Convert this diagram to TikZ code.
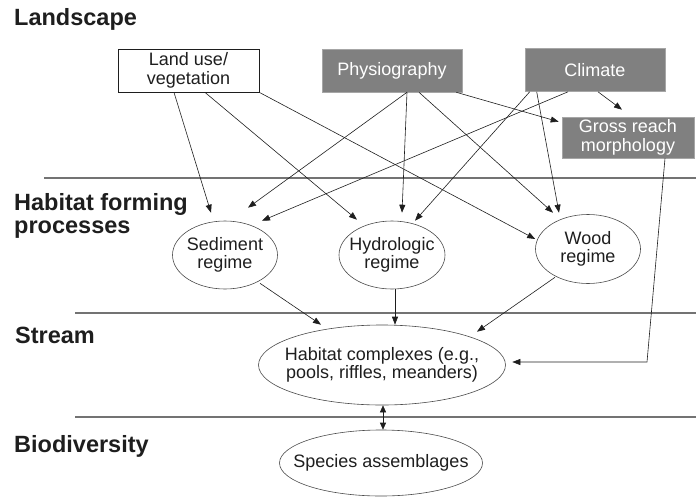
\documentclass[tikz,border=0pt]{standalone}
\usepackage{fontspec}
\setmainfont{Liberation Sans}
\usetikzlibrary{arrows.meta,shapes.geometric}
\definecolor{boxgray}{RGB}{128,128,128}
\definecolor{rulegray}{RGB}{115,115,115}
\definecolor{ink}{RGB}{30,30,30}
\newcommand\zw[1]{\makebox[0pt]{#1}}
\begin{document}
\begin{tikzpicture}[x=1pt,y=-1pt,
  sect/.style={anchor=base west,inner sep=0pt,align=left,text=ink,
    font=\fontsize{23.5}{23}\selectfont\bfseries},
  whitebox/.style={draw=ink,line width=0.8pt,fill=white,minimum width=141pt,minimum height=43pt,
    inner sep=0pt,align=center,text=ink,font=\fontsize{18}{18.5}\selectfont},
  graybox/.style={draw=boxgray!70!white,line width=0.6pt,fill=boxgray,minimum width=140pt,minimum height=43pt,
    inner sep=0pt,align=center,text=white,font=\fontsize{18}{18.5}\selectfont},
  regime/.style={ellipse,draw=ink!80,line width=0.6pt,inner sep=0pt,align=center,text=ink,
    font=\fontsize{18}{18.5}\selectfont},
  conn/.style={draw=ink,line width=0.6pt,-{Triangle[length=8pt,width=6pt]}},
  divider/.style={draw=rulegray,line width=1.1pt}
]
\useasboundingbox (0,0) rectangle (696,498);

% section labels
\node[sect] (lLand) at (14,25) {Landscape};
\node[sect] (lHab) at (14,233) {Habitat forming\\processes};
\node[sect] (lStream) at (15,343) {Stream};
\node[sect] (lBio) at (14,452) {Biodiversity};

% dividers
\draw[divider] (44,178) -- (696,178);
\draw[divider] (75,313) -- (696,313);
\draw[divider] (75,417) -- (696,417);

% boxes
\node[whitebox] (land) at (188.5,70.5) {Land use/\\vegetation};
\node[graybox] (phys) at (392,70.5) {Physiography};
\node[graybox] (clim) at (595,70) {Climate};
\node[graybox,minimum width=132pt,minimum height=41pt] (gross) at (628,137.5) {Gross reach\\morphology};

% ellipses
\node[regime,minimum width=105pt,minimum height=68pt] (sed) at (225,255) {\zw{Sediment}\\\zw{regime}};
\node[regime,minimum width=106pt,minimum height=68pt] (hyd) at (392,255) {\zw{Hydrologic}\\\zw{regime}};
\node[regime,minimum width=105pt,minimum height=69pt] (wood) at (588,249) {\zw{Wood}\\\zw{regime}};
\node[regime,minimum width=247pt,minimum height=80pt] (hab) at (382,365) {\zw{Habitat complexes (e.g.,}\\\zw{pools, riffles, meanders)}};
\node[regime,minimum width=203pt,minimum height=66pt] (spec) at (381,463) {\zw{Species assemblages}};

% land use
\draw[conn] ([xshift=-14.5pt]land.south) -- ([xshift=-14pt,yshift=8pt]sed.north);
\draw[conn] ([xshift=16.5pt]land.south) -- ([xshift=-35pt,yshift=1pt]hyd.north);
\draw[conn] (land.south east) -- ([yshift=10pt]wood.west);

% physiography
\draw[conn] ([xshift=15pt]phys.south) -- ([xshift=23pt,yshift=13pt]sed.north);
\draw[conn] ([xshift=15pt]phys.south) -- ([xshift=10pt,yshift=8pt]hyd.north);
\draw[conn] ([xshift=27pt]phys.south) -- ([xshift=-35pt,yshift=1.5pt]wood.north);
\draw[conn] ([xshift=-6pt]phys.south east) -- ([xshift=-3pt,yshift=-5pt]gross.north west);

% climate
\draw[conn] ([xshift=-27pt]clim.south) -- ([xshift=37pt]sed.north);
\draw[conn] ([xshift=5pt]clim.south west) -- ([xshift=23pt]hyd.north);
\draw[conn] ([xshift=12pt]clim.south west) -- ([xshift=-29pt,yshift=1.5pt]wood.north);
\draw[conn] ([xshift=3pt]clim.south) -- ([xshift=-6pt,yshift=7pt]gross.north);

% regimes to habitat
\draw[conn] ([xshift=35pt,yshift=6pt]sed.south) -- ([xshift=-61pt]hab.north);
\draw[conn] ([xshift=3pt]hyd.south) -- ([xshift=13pt]hab.north);
\draw[conn] ([xshift=-33pt,yshift=6.5pt]wood.south) -- ([xshift=95pt,yshift=-7pt]hab.north);

% gross reach to habitat
\coordinate (bend) at (647,362);
\draw[conn] ([xshift=37pt]gross.south) -- (bend) -- ([xshift=6.5pt,yshift=3pt]hab.east);

% habitat <-> species
\draw[draw=ink,line width=0.6pt,{Triangle[length=7pt,width=6pt]}-{Triangle[length=7pt,width=6pt]}]
  ([xshift=1pt]hab.south) -- ([xshift=1pt]hab.south |- spec.north);
\end{tikzpicture}
\end{document}
